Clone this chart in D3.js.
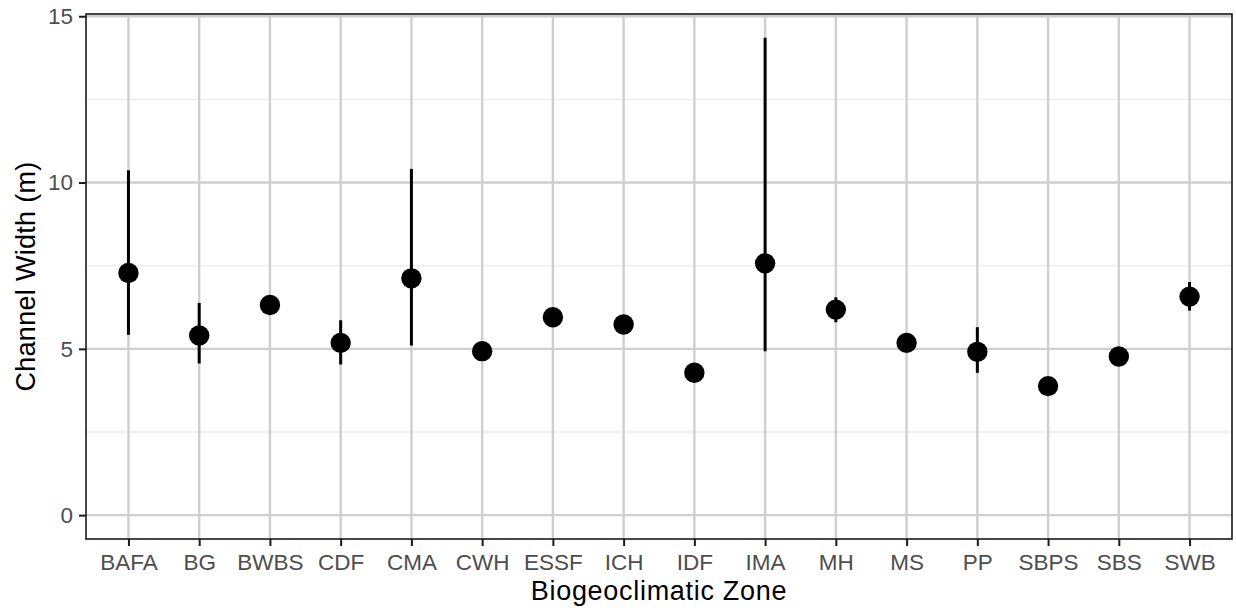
<!DOCTYPE html>
<html>
<head>
<meta charset="utf-8">
<script src="https://cdn.jsdelivr.net/npm/d3@7"></script>
<style>
  body { margin: 0; background: #fff; }
  text { font-family: "Liberation Sans", Arial, sans-serif; }
</style>
</head>
<body>
<div id="chart"></div>
<script>
// mean channel width with interval, per zone
const zones = ["BAFA", "BG", "BWBS", "CDF", "CMA", "CWH", "ESSF", "ICH", "IDF", "IMA", "MH", "MS", "PP", "SBPS", "SBS", "SWB"];
const means = [7.28, 5.40, 6.32, 5.18, 7.12, 4.93, 5.95, 5.73, 4.28, 7.57, 6.18, 5.18, 4.91, 3.88, 4.77, 6.57];
const lower = [5.42, 4.56, null, 4.53, 5.10, null, null, null, null, 4.93, 5.80, null, 4.28, null, null, 6.15];
const upper = [10.37, 6.38, null, 5.86, 10.41, null, null, null, null, 14.35, 6.55, null, 5.65, null, null, 7.01];
const yTicks = [0, 5, 10, 15];
const yMinor = [2.5, 7.5, 12.5];

const width = 1236, height = 611;
const margin = { top: 14, right: 4, bottom: 72, left: 86 };
const pw = width - margin.left - margin.right;
const ph = height - margin.top - margin.bottom;

const svg = d3.select("#chart").append("svg")
    .attr("width", width)
    .attr("height", height);

const g = svg.append("g")
    .attr("transform", `translate(${margin.left},${margin.top})`);

// ggplot style expansion: 0.6 units on discrete, 5% on continuous
const x = d3.scalePoint()
    .domain(zones)
    .range([0, pw])
    .padding(0.6);

const yLo = 0, yHi = 14.35;
const pad = (yHi - yLo) * 0.05;
const y = d3.scaleLinear()
    .domain([yLo - pad, yHi + pad])
    .range([ph, 0]);

// minor grid
g.append("g")
    .selectAll("line")
    .data(yMinor)
    .enter()
    .append("line")
        .attr("x1", 0).attr("x2", pw)
        .attr("y1", d => y(d)).attr("y2", d => y(d))
        .attr("stroke", "#ebebeb")
        .attr("stroke-width", 1.3);

// major grid
g.append("g")
    .selectAll("line")
    .data(yTicks)
    .enter()
    .append("line")
        .attr("x1", 0).attr("x2", pw)
        .attr("y1", d => y(d)).attr("y2", d => y(d))
        .attr("stroke", "#cfcfcf")
        .attr("stroke-width", 2.4);

g.append("g")
    .selectAll("line")
    .data(zones)
    .enter()
    .append("line")
        .attr("x1", d => x(d)).attr("x2", d => x(d))
        .attr("y1", 0).attr("y2", ph)
        .attr("stroke", "#cfcfcf")
        .attr("stroke-width", 2.4);

// error bars
const rows = zones.map((z, i) => ({ zone: z, mean: means[i], lo: lower[i], hi: upper[i] }));

g.append("g")
    .selectAll("line")
    .data(rows.filter(d => d.lo !== null))
    .enter()
    .append("line")
        .attr("x1", d => x(d.zone)).attr("x2", d => x(d.zone))
        .attr("y1", d => y(d.lo)).attr("y2", d => y(d.hi))
        .attr("stroke", "#000")
        .attr("stroke-width", 3);

g.append("g")
    .selectAll("circle")
    .data(rows)
    .enter()
    .append("circle")
        .attr("cx", d => x(d.zone))
        .attr("cy", d => y(d.mean))
        .attr("r", 10.2)
        .attr("fill", "#000");

// panel border
g.append("rect")
    .attr("x", 0).attr("y", 0)
    .attr("width", pw).attr("height", ph)
    .attr("fill", "none")
    .attr("stroke", "#1a1a1a")
    .attr("stroke-width", 1.6);

// axes
const yAxis = d3.axisLeft(y).tickValues(yTicks).tickSize(7).tickPadding(6);
const xAxis = d3.axisBottom(x).tickSize(7).tickPadding(8);

const ya = g.append("g").call(yAxis);
const xa = g.append("g").attr("transform", `translate(0,${ph})`).call(xAxis);

[ya, xa].forEach(a => {
    a.select(".domain").remove();
    a.selectAll(".tick line").attr("stroke", "#1a1a1a").attr("stroke-width", 2);
    a.selectAll(".tick text")
        .attr("fill", "#4d4d4d")
        .style("font-size", "22.5px")
        .style("font-family", "'Liberation Sans', Arial, sans-serif");
});

svg.append("text")
    .attr("x", margin.left + pw / 2)
    .attr("y", 600)
    .attr("text-anchor", "middle")
    .style("font-size", "27px")
    .style("letter-spacing", "0.7px")
    .attr("fill", "#000")
    .text("Biogeoclimatic Zone");

svg.append("text")
    .attr("transform", `translate(35,${margin.top + ph / 2}) rotate(-90)`)
    .attr("text-anchor", "middle")
    .style("font-size", "27px")
    .style("letter-spacing", "0.3px")
    .attr("fill", "#000")
    .text("Channel Width (m)");
</script>
</body>
</html>
